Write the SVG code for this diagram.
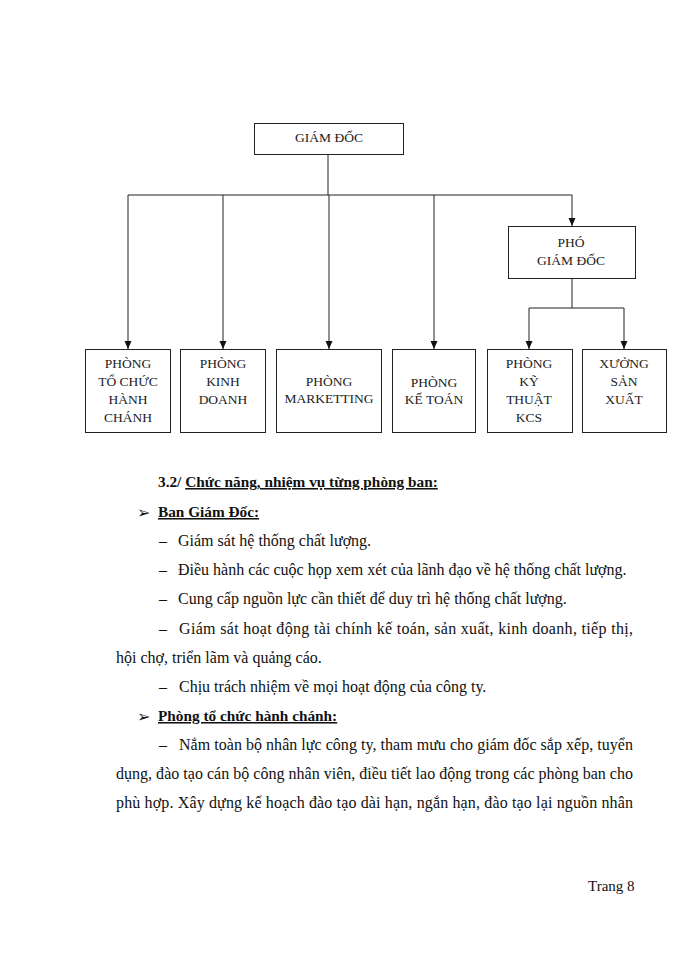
<svg xmlns="http://www.w3.org/2000/svg" width="700" height="960" viewBox="0 0 700 960">
<style>
.box{fill:#fff;stroke:#222;stroke-width:1}
.lbl{font-family:"Liberation Serif",serif;font-size:13.5px;fill:#222;text-anchor:middle}
.conn{fill:none;stroke:#222;stroke-width:1}
.body{font-family:"Liberation Serif",serif;font-size:16px;fill:#111}
.bold{font-family:"Liberation Serif",serif;font-size:15.3px;font-weight:bold;fill:#111}
.u{text-decoration:underline}
.bul{font-family:"DejaVu Sans",sans-serif;font-size:16px;fill:#111}
</style>
<defs>
<marker id="ad" markerUnits="userSpaceOnUse" markerWidth="8" markerHeight="8" viewBox="0 0 8 8" refX="4" refY="8" orient="0">
<path d="M0.5,0 L7.5,0 L4,8 Z" fill="#111"/>
</marker>
</defs>
<rect width="700" height="960" fill="#fff"/>
<g id="connectors">
<path class="conn" d="M328,154 V195"/>
<path class="conn" d="M128,195 H572"/>
<path class="conn" d="M128,195 V349" marker-end="url(#ad)"/>
<path class="conn" d="M223,195 V349" marker-end="url(#ad)"/>
<path class="conn" d="M329,195 V349" marker-end="url(#ad)"/>
<path class="conn" d="M434,195 V349" marker-end="url(#ad)"/>
<path class="conn" d="M572,195 V226" marker-end="url(#ad)"/>
<path class="conn" d="M572,278 V308"/>
<path class="conn" d="M529,308 H624"/>
<path class="conn" d="M529,308 V349" marker-end="url(#ad)"/>
<path class="conn" d="M624,308 V349" marker-end="url(#ad)"/>
</g>
<g id="giam-doc">
<rect class="box" x="254.5" y="123.5" width="149" height="31"/>
<text class="lbl" x="329" y="142">GIÁM ĐỐC</text>
</g>
<g id="pho-giam-doc">
<rect class="box" x="508.5" y="226.5" width="127" height="52"/>
<text class="lbl" x="571" y="247">PHÓ</text>
<text class="lbl" x="571" y="265">GIÁM ĐỐC</text>
</g>
<g id="phong-tchc">
<rect class="box" x="85.5" y="349.5" width="85" height="83"/>
<text class="lbl" x="128" y="368">PHÒNG</text>
<text class="lbl" x="128" y="386">TỔ CHỨC</text>
<text class="lbl" x="128" y="404">HÀNH</text>
<text class="lbl" x="128" y="422">CHÁNH</text>
</g>
<g id="phong-kd">
<rect class="box" x="180.5" y="349.5" width="85" height="83"/>
<text class="lbl" x="223" y="368">PHÒNG</text>
<text class="lbl" x="223" y="386">KINH</text>
<text class="lbl" x="223" y="404">DOANH</text>
</g>
<g id="phong-mkt">
<rect class="box" x="276.5" y="349.5" width="105" height="83"/>
<text class="lbl" x="329" y="386">PHÒNG</text>
<text class="lbl" x="329" y="403">MARKETTING</text>
</g>
<g id="phong-kt">
<rect class="box" x="392.5" y="349.5" width="83" height="83"/>
<text class="lbl" x="434" y="387">PHÒNG</text>
<text class="lbl" x="434" y="404">KẾ TOÁN</text>
</g>
<g id="phong-kcs">
<rect class="box" x="487.5" y="349.5" width="85" height="83"/>
<text class="lbl" x="529" y="368">PHÒNG</text>
<text class="lbl" x="529" y="386">KỸ</text>
<text class="lbl" x="529" y="404">THUẬT</text>
<text class="lbl" x="529" y="422">KCS</text>
</g>
<g id="xuong-sx">
<rect class="box" x="582.5" y="349.5" width="84" height="83"/>
<text class="lbl" x="624" y="368">XƯỞNG</text>
<text class="lbl" x="624" y="386">SẢN</text>
<text class="lbl" x="624" y="404">XUẤT</text>
</g>
<g id="text-body">
<text class="bold" x="158" y="487">3.2/ <tspan class="u">Chức năng, nhiệm vụ từng phòng ban:</tspan></text>
<text class="bul" x="137" y="518">➢</text>
<text class="bold" x="158" y="517"><tspan class="u">Ban Giám Đốc:</tspan></text>
<text class="body" x="159" y="546">–</text>
<text class="body" x="178" y="546">Giám sát hệ thống chất lượng.</text>
<text class="body" x="159" y="575">–</text>
<text class="body" x="178" y="575">Điều hành các cuộc họp xem xét của lãnh đạo về hệ thống chất lượng.</text>
<text class="body" x="159" y="604">–</text>
<text class="body" x="178" y="604">Cung cấp nguồn lực cần thiết để duy trì hệ thống chất lượng.</text>
<text class="body" x="159" y="634">–</text>
<text class="body" x="179" y="634" textLength="454" lengthAdjust="spacing">Giám sát hoạt động tài chính kế toán, sản xuất, kinh doanh, tiếp thị,</text>
<text class="body" x="116" y="663">hội chợ, triển lãm và quảng cáo.</text>
<text class="body" x="159" y="692">–</text>
<text class="body" x="179" y="692">Chịu trách nhiệm về mọi hoạt động của công ty.</text>
<text class="bul" x="137" y="722">➢</text>
<text class="bold" x="158" y="721"><tspan class="u">Phòng tổ chức hành chánh:</tspan></text>
<text class="body" x="159" y="750">–</text>
<text class="body" x="179" y="750" textLength="454" lengthAdjust="spacing">Nắm toàn bộ nhân lực công ty, tham mưu cho giám đốc sắp xếp, tuyển</text>
<text class="body" x="116" y="779" textLength="517" lengthAdjust="spacing">dụng, đào tạo cán bộ công nhân viên, điều tiết lao động trong các phòng ban cho</text>
<text class="body" x="116" y="808" textLength="517" lengthAdjust="spacing">phù hợp. Xây dựng kế hoạch đào tạo dài hạn, ngắn hạn, đào tạo lại nguồn nhân</text>
<text class="body" x="588" y="891" style="font-size:15px">Trang 8</text>
</g>
</svg>
